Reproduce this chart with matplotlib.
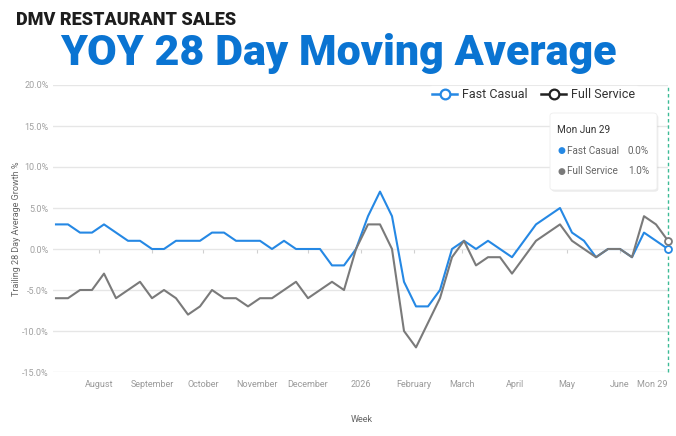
import matplotlib
matplotlib.use("Agg")
import matplotlib.pyplot as plt
from matplotlib.lines import Line2D
from matplotlib.patches import FancyBboxPatch
import pandas as pd

# ---- data ----
weeks = pd.date_range("2025-07-07", "2026-06-29", freq="7D")
fast_casual = [3, 3, 2, 2, 3, 2, 1, 1, 0, 0, 1, 1, 1, 2, 2, 1, 1, 1, 0, 1, 0, 0, 0, -2, -2,
               0, 4, 7, 4, -4, -7, -7, -5, 0, 1, 0, 1, 0, -1, 1, 3, 4, 5, 2, 1, -1, 0, 0, -1, 2, 1, 0]
full_service = [-6, -6, -5, -5, -3, -6, -5, -4, -6, -5, -6, -8, -7, -5, -6, -6, -7, -6, -6, -5, -4, -6, -5, -4, -5,
                0, 3, 3, 0, -10, -12, -9, -6, -1, 1, -2, -1, -1, -3, -1, 1, 2, 3, 1, 0, -1, 0, 0, -1, 4, 3, 1]
series_names = ["Fast Casual", "Full Service"]
tick_dates = pd.to_datetime(["2025-08-01", "2025-09-01", "2025-10-01", "2025-11-01", "2025-12-01",
                             "2026-01-01", "2026-02-01", "2026-03-01", "2026-04-01", "2026-05-01",
                             "2026-06-01", "2026-06-29"])
tick_labels = ["August", "September", "October", "November", "December", "2026",
               "February", "March", "April", "May", "June", "Mon 29"]
y_ticks = [-15, -10, -5, 0, 5, 10, 15, 20]

BLUE = "#2588e4"
GREY = "#7a7a7a"
FONT = ["Roboto", "DejaVu Sans"]
plt.rcParams["font.family"] = FONT

fig = plt.figure(figsize=(6.76, 4.36), dpi=100)
fig.patch.set_facecolor("white")

pos = [53 / 676, (436 - 372) / 436, 615 / 676, 287 / 436]
ax = fig.add_axes(pos)
ax.plot(weeks, fast_casual, color=BLUE, lw=1.5, zorder=3)
ax.plot(weeks, full_service, color=GREY, lw=1.5, zorder=3)
ax.plot(weeks[-1:], fast_casual[-1:], "o", mfc="white", mec=BLUE, mew=1.3, ms=5, zorder=5, clip_on=False)
ax.plot(weeks[-1:], full_service[-1:], "o", mfc="white", mec=GREY, mew=1.3, ms=5, zorder=5, clip_on=False)
ax.axvline(weeks[-1], color="#3dbb96", lw=1, ls=(0, (2.5, 2)), zorder=4, clip_on=False)

xlim = (weeks[0] - pd.Timedelta(days=1.75), weeks[-1])
ax.set_ylim(-15, 20)
ax.set_xlim(*xlim)
ax.set_yticks(y_ticks)
ax.set_yticklabels([f"{v:.1f}%" for v in y_ticks])
ax.tick_params(axis="y", length=0, labelsize=6.5, labelcolor="#a0a0a0", pad=3)
ax.grid(axis="y", color="#e6e6e6", lw=1)
ax.set_axisbelow(True)
for s in ax.spines.values():
    s.set_visible(False)
# small ticks on the zero line
ax.spines["bottom"].set_position(("data", 0))
ax.set_xticks(tick_dates[:-1])
ax.tick_params(axis="x", length=3, color="#d0d0d0", labelbottom=False)

# labels on overlay axis
ax2 = fig.add_axes(pos, sharex=ax)
ax2.patch.set_visible(False)
for s in ax2.spines.values():
    s.set_visible(False)
ax2.set_yticks([])
ax2.set_xticks(tick_dates)
ax2.set_xticklabels(tick_labels)
ax2.tick_params(axis="x", length=0, labelsize=6.5, labelcolor="#9a9a9a", pad=6)
lbls = ax2.get_xticklabels()
lbls[-1].set_horizontalalignment("right")
ax2.set_xlim(*xlim)

ax.set_ylabel("Trailing 28 Day Average Growth %", fontsize=6.5, color="#666666", labelpad=1)
fig.text(362 / 676, (436 - 419) / 436, "Week", ha="center", va="center", fontsize=6.5, color="#666666")

# legend
handles = [Line2D([], [], color=BLUE, lw=1.8, marker="o", mfc="white", mec=BLUE, mew=1.6, ms=7),
           Line2D([], [], color="#222222", lw=1.8, marker="o", mfc="white", mec="#222222", mew=1.6, ms=7)]
leg = fig.legend(handles, series_names, loc="center right", bbox_to_anchor=(638 / 676, (436 - 95) / 436),
                 ncol=2, frameon=True, fontsize=9, handlelength=2.0, columnspacing=1.1, handletextpad=0.4,
                 borderpad=0.2, borderaxespad=0)
leg.get_frame().set_edgecolor("white")
leg.get_frame().set_facecolor("white")
for t in leg.get_texts():
    t.set_color("#333333")

# tooltip
bx0, bx1 = 550 / 676, 657 / 676
by0, by1 = (436 - 190) / 436, (436 - 113) / 436
shadow = FancyBboxPatch((bx0 + 0.002, by0 - 0.004), bx1 - bx0, by1 - by0,
                        boxstyle="round,pad=0,rounding_size=0.006", transform=fig.transFigure,
                        fc="#000000", ec="none", alpha=0.08, zorder=10)
box = FancyBboxPatch((bx0, by0), bx1 - bx0, by1 - by0,
                     boxstyle="round,pad=0,rounding_size=0.006", transform=fig.transFigure,
                     fc="white", ec="#eeeeee", lw=0.6, zorder=11)
fig.add_artist(shadow)
fig.add_artist(box)
fig.text(557 / 676, (436 - 130) / 436, weeks[-1].strftime("Mon %b %d").replace(" 0", " "),
         fontsize=7.2, color="#333333", va="center", zorder=12)
for name, vals, col, yy in [(series_names[0], fast_casual, BLUE, 151), (series_names[1], full_service, GREY, 171)]:
    fig.text(558 / 676, (436 - yy) / 436, "\u25CF", fontsize=6.5, color=col, va="center", zorder=12,
             family="DejaVu Sans")
    fig.text(567 / 676, (436 - yy) / 436, name, fontsize=7.2, color="#666666", va="center", zorder=12)
    fig.text(649 / 676, (436 - yy) / 436, f"{vals[-1]:.1f}%", fontsize=7.2, color="#666666",
             va="center", ha="right", zorder=12)

# titles
fig.text(16 / 676, (436 - 20) / 436, "DMV RESTAURANT SALES", fontsize=13, fontweight="black",
         color="#1d1d1d", va="center", ha="left")
fig.text(338 / 676, (436 - 53) / 436, "YOY 28 Day Moving Average", fontsize=31, fontweight="black",
         color="#0a74d2", va="center", ha="center")

fig.savefig("out.png", dpi=100, facecolor="white")
